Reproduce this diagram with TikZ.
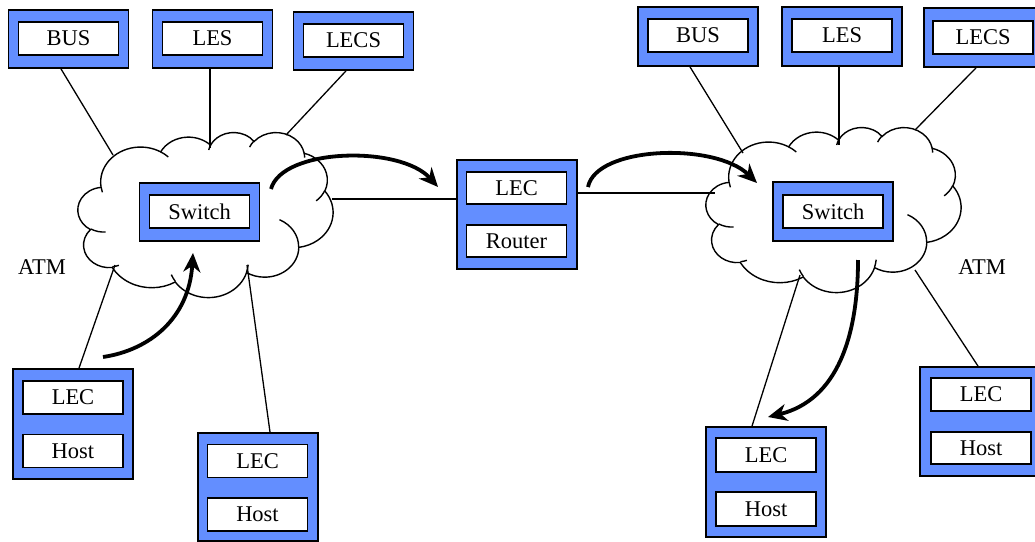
\documentclass[tikz,border=0pt]{standalone}
\usepackage{fontspec}
\setmainfont{Liberation Serif}
\usetikzlibrary{arrows.meta}
\definecolor{boxblue}{RGB}{99,142,255}

% Turns an arc given by a visual start angle and sweep on an ellipse
% into TikZ's parametric start angle and delta angle.
\newcommand\cloudangles[4]{%
  \pgfmathsetmacro\cldtS{atan2((#1)*sin(#3),(#2)*cos(#3))}%
  \pgfmathsetmacro\cldtE{atan2((#1)*sin((#3)+(#4)),(#2)*cos((#3)+(#4)))}%
  \pgfmathsetmacro\cldtD{\cldtE-(\cldtS)}%
  \pgfmathsetmacro\cldtD{((#4)>0 && \cldtD<0) ? \cldtD+360 : (((#4)<0 && \cldtD>0) ? \cldtD-360 : \cldtD)}%
  \global\let\cldS\cldtS
  \global\let\cldD\cldtD}

% Cloud outline with its inner fold strokes, in a 432 x 432 frame.
\newcommand\atmcloud{%
  \draw[cloudline] (39.00,143.70)
    \foreach \ra/\rb/\st/\sw in {67.53/91.90/-190.4875/123.7805,
        53.33/72.67/-144.1024/89.9452, 43.65/59.45/-145.8079/99.7230,
        48.57/65.95/-130.9861/117.2417, 53.33/72.73/-78.7089/109.0269,
        67.75/92.20/-46.2673/130.2690, 57.85/78.67/0.6250/114.0333,
        67.52/92.15/22.4516/115.1726, 77.20/105.43/66.2426/75.7110,
        43.60/59.18/-274.9421/146.7356, 43.45/59.45/-246.8285/152.5189}
    {\pgfextra{\cloudangles{\ra}{\rb}{\st}{\sw}}
     arc[x radius=\ra, y radius=\rb, start angle=\cldS, delta angle=\cldD]}
    -- cycle;
  \foreach \px/\py/\ra/\rb/\st/\sw in {46.93/261.77/43.45/59.45/86.7420/26.4295,
      69.28/348.99/43.60/59.18/73.6105/11.4475,
      164.78/390.90/67.52/92.15/137.6242/14.0811,
      288.27/347.51/67.52/92.15/6.4533/15.9984,
      341.29/229.54/57.85/78.67/-70.2924/70.9174,
      417.98/153.54/53.33/72.73/30.3180/27.7515,
      383.24/54.26/48.57/65.95/-13.7443/14.8589,
      290.78/39.52/48.57/65.95/-149.1815/18.1954,
      221.41/47.20/43.65/59.45/-163.4943/17.6864,
      140.00/51.92/67.53/91.90/-66.7070/12.3194,
      41.27/157.89/67.53/91.90/157.6544/11.8582}{%
    \cloudangles{\ra}{\rb}{\st}{\sw}%
    \draw[cloudline] (\px,\py) arc[x radius=\ra, y radius=\rb, start angle=\cldS, delta angle=\cldD];
  }%
}

\begin{document}
\begin{tikzpicture}[x=1pt,y=-1pt,
  every node/.style={font=\fontsize{22.5}{27}\selectfont, inner sep=0pt},
  netbox/.style={draw=black, line width=1.8pt, fill=boxblue, minimum width=120pt, minimum height=58pt},
  netboxtall/.style={netbox, minimum height=110pt},
  innerbox/.style={draw=black, line width=1.6pt, fill=white, minimum width=100pt, minimum height=33pt},
  link/.style={line width=1.3pt},
  flow/.style={line width=3.8pt, -{Stealth[length=19pt,width=17pt,inset=6pt]}},
  cloudline/.style={line width=1.4pt},
  atm/.style={}
]
\useasboundingbox (0,0) rectangle (1035,541);

% the two ATM clouds
\begin{scope}[shift={(78pt,-132pt)}, x=0.590278pt, y=-0.381944pt]
  \atmcloud
\end{scope}
\begin{scope}[shift={(706pt,-127pt)}, x=0.590278pt, y=-0.381944pt]
  \atmcloud
\end{scope}

% points where links meet the cloud outlines
\coordinate (c1bus) at (113,155);
\coordinate (c1les) at (210,148);
\coordinate (c1lecs) at (286,135);
\coordinate (c1r) at (332,199);
\coordinate (c1hA) at (115,265);
\coordinate (c1hB) at (247,265);
\coordinate (c2bus) at (743,153);
\coordinate (c2les) at (839,145);
\coordinate (c2lecs) at (915,130);
\coordinate (c2r) at (715,193);
\coordinate (c2hC) at (800,275);
\coordinate (c2hD) at (915,270);

% left network
\node[netbox] (bus1) at (68.5,39) {};
\node[innerbox] (bus1t) at (68.5,38.5) {BUS};
\node[netbox] (les1) at (212.5,39) {};
\node[innerbox] (les1t) at (212.5,38.5) {LES};
\node[netbox] (lecs1) at (353.5,41) {};
\node[innerbox] (lecs1t) at (353.5,40.5) {LECS};
\node[netbox] (sw1) at (199.5,212) {};
\node[innerbox] (sw1t) at (199.5,211.5) {Switch};
\node[netboxtall] (hA) at (73,424) {};
\node[innerbox] (hAlec) at (73,397.5) {LEC};
\node[innerbox] (hAhost) at (73,451) {Host};
\node[netboxtall, minimum height=108pt] (hB) at (258,487) {};
\node[innerbox] (hBlec) at (257.5,461) {LEC};
\node[innerbox] (hBhost) at (257.5,514.5) {Host};

% router between the two networks
\node[netboxtall, minimum height=109pt] (rt) at (517,214.5) {};
\node[innerbox, minimum height=32pt] (rtlec) at (516.5,188) {LEC};
\node[innerbox, minimum height=32pt] (rtrouter) at (516.5,241) {Router};

% right network
\node[netbox, minimum height=59pt] (bus2) at (698,36.5) {};
\node[innerbox] (bus2t) at (698,35.5) {BUS};
\node[netbox, minimum height=59pt] (les2) at (842,36.5) {};
\node[innerbox] (les2t) at (842,35.5) {LES};
\node[netbox, minimum height=59pt] (lecs2) at (984,37.5) {};
\node[innerbox] (lecs2t) at (983,37.5) {LECS};
\node[netbox, minimum height=59pt] (sw2) at (833,211.5) {};
\node[innerbox] (sw2t) at (833,211.5) {Switch};
\node[netboxtall] (hC) at (766,482) {};
\node[innerbox, minimum height=34pt] (hClec) at (766,455) {LEC};
\node[innerbox, minimum height=34pt] (hChost) at (766,509) {Host};
\node[netboxtall, minimum height=109pt] (hD) at (980,421.5) {};
\node[innerbox] (hDlec) at (981,394.5) {LEC};
\node[innerbox, minimum height=32pt] (hDhost) at (981,448) {Host};

% links
\draw[link] ([xshift=-7.5pt]bus1.south) -- (c1bus);
\draw[link] ([xshift=-2.5pt]les1.south) -- (c1les);
\draw[link] ([xshift=-7.5pt]lecs1.south) -- (c1lecs);
\draw[link] (c1r) -- ([yshift=15.5pt]rt.west);
\draw[link] (c1hA) -- ([xshift=6pt]hA.north);
\draw[link] (c1hB) -- ([xshift=12pt]hB.north);
\draw[link] ([yshift=21.5pt]rt.east) -- (c2r);
\draw[link] ([xshift=-8pt]bus2.south) -- (c2bus);
\draw[link] ([xshift=-3pt]les2.south) -- (c2les);
\draw[link] ([xshift=-8pt]lecs2.south) -- (c2lecs);
\draw[link] (c2hC) -- ([xshift=-14pt]hC.north);
\draw[link] (c2hD) -- ([xshift=-2pt]hD.north);

% traffic path
\coordinate (a1s) at (103,357);
\coordinate (a1e) at (193,253);
\coordinate (a2s) at (271,189);
\coordinate (a2e) at (438,187);
\coordinate (a3s) at (588,187);
\coordinate (a3e) at (757,183);
\coordinate (a4s) at (858,260);
\coordinate (a4e) at (768,417);
\draw[flow] (a1s) .. controls (150,350) and (189,318) .. (a1e);
\draw[flow] (a2s) .. controls (282,148) and (400,145) .. (a2e);
\draw[flow] (a3s) .. controls (596,146) and (715,142) .. (a3e);
\draw[flow] (a4s) .. controls (858,335) and (838,400) .. (a4e);

% network labels
\node[atm] (atm1) at (42,267) {ATM};
\node[atm] (atm2) at (982,267) {ATM};
\end{tikzpicture}
\end{document}
